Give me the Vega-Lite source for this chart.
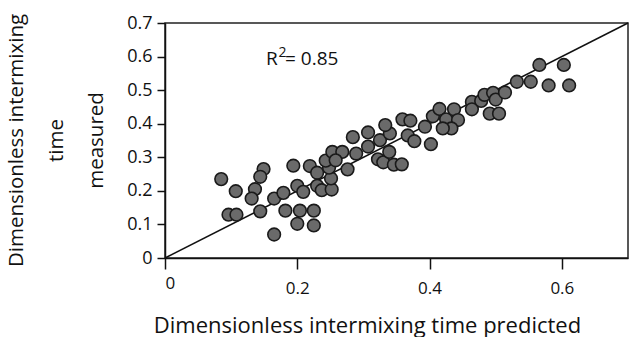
{
  "$schema": "https://vega.github.io/schema/vega-lite/v6.json",
  "autosize": "none",
  "width": 463,
  "height": 235,
  "padding": {"left": 165, "top": 23, "right": 1, "bottom": 79},
  "background": "white",
  "config": {
    "font": "Open Sans",
    "view": {"stroke": "#222", "strokeWidth": 1.5},
    "axis": {"grid": false, "domainColor": "#111", "domainWidth": 1.5, "tickColor": "#111", "tickWidth": 1.5, "labelColor": "#111", "titleColor": "#111", "labelFont": "Open Sans", "titleFont": "Open Sans", "titleFontWeight": "normal", "labelOverlap": false}
  },
  "data": {"values": [
    {"predicted": 0.085, "measured": 0.235},
    {"predicted": 0.107, "measured": 0.199},
    {"predicted": 0.096, "measured": 0.129},
    {"predicted": 0.108, "measured": 0.129},
    {"predicted": 0.149, "measured": 0.265},
    {"predicted": 0.144, "measured": 0.242},
    {"predicted": 0.136, "measured": 0.205},
    {"predicted": 0.131, "measured": 0.177},
    {"predicted": 0.144, "measured": 0.139},
    {"predicted": 0.165, "measured": 0.070},
    {"predicted": 0.165, "measured": 0.177},
    {"predicted": 0.179, "measured": 0.194},
    {"predicted": 0.182, "measured": 0.141},
    {"predicted": 0.194, "measured": 0.275},
    {"predicted": 0.200, "measured": 0.215},
    {"predicted": 0.209, "measured": 0.197},
    {"predicted": 0.204, "measured": 0.141},
    {"predicted": 0.225, "measured": 0.141},
    {"predicted": 0.200, "measured": 0.102},
    {"predicted": 0.225, "measured": 0.097},
    {"predicted": 0.219, "measured": 0.274},
    {"predicted": 0.230, "measured": 0.254},
    {"predicted": 0.230, "measured": 0.215},
    {"predicted": 0.237, "measured": 0.202},
    {"predicted": 0.252, "measured": 0.204},
    {"predicted": 0.251, "measured": 0.237},
    {"predicted": 0.248, "measured": 0.269},
    {"predicted": 0.243, "measured": 0.290},
    {"predicted": 0.253, "measured": 0.316},
    {"predicted": 0.268, "measured": 0.316},
    {"predicted": 0.258, "measured": 0.291},
    {"predicted": 0.276, "measured": 0.264},
    {"predicted": 0.289, "measured": 0.311},
    {"predicted": 0.284, "measured": 0.360},
    {"predicted": 0.307, "measured": 0.332},
    {"predicted": 0.307, "measured": 0.374},
    {"predicted": 0.322, "measured": 0.294},
    {"predicted": 0.325, "measured": 0.351},
    {"predicted": 0.330, "measured": 0.285},
    {"predicted": 0.346, "measured": 0.278},
    {"predicted": 0.358, "measured": 0.279},
    {"predicted": 0.339, "measured": 0.316},
    {"predicted": 0.340, "measured": 0.371},
    {"predicted": 0.333, "measured": 0.396},
    {"predicted": 0.359, "measured": 0.413},
    {"predicted": 0.371, "measured": 0.409},
    {"predicted": 0.367, "measured": 0.365},
    {"predicted": 0.377, "measured": 0.348},
    {"predicted": 0.402, "measured": 0.339},
    {"predicted": 0.393, "measured": 0.391},
    {"predicted": 0.405, "measured": 0.422},
    {"predicted": 0.415, "measured": 0.444},
    {"predicted": 0.425, "measured": 0.413},
    {"predicted": 0.437, "measured": 0.443},
    {"predicted": 0.443, "measured": 0.411},
    {"predicted": 0.433, "measured": 0.386},
    {"predicted": 0.420, "measured": 0.386},
    {"predicted": 0.464, "measured": 0.465},
    {"predicted": 0.464, "measured": 0.443},
    {"predicted": 0.478, "measured": 0.468},
    {"predicted": 0.483, "measured": 0.486},
    {"predicted": 0.491, "measured": 0.430},
    {"predicted": 0.496, "measured": 0.492},
    {"predicted": 0.505, "measured": 0.430},
    {"predicted": 0.500, "measured": 0.472},
    {"predicted": 0.514, "measured": 0.493},
    {"predicted": 0.532, "measured": 0.525},
    {"predicted": 0.553, "measured": 0.525},
    {"predicted": 0.566, "measured": 0.575},
    {"predicted": 0.603, "measured": 0.575},
    {"predicted": 0.580, "measured": 0.514},
    {"predicted": 0.611, "measured": 0.514}
  ]},
  "layer": [
    {
      "data": {"values": [{}]},
      "mark": {"type": "rule", "color": "#111", "strokeWidth": 1.5},
      "encoding": {
        "x": {"datum": 0, "type": "quantitative", "scale": {"domain": [0, 0.7], "nice": false},
          "axis": {"tickCount": 4, "format": ".1~f", "tickSize": 11, "labelFontSize": 17, "labelOverlap": false,
            "labelPadding": {"condition": {"test": "datum.value == 0", "value": 6}, "value": 11},
            "title": "Dimensionless intermixing time predicted", "titleFontSize": 22, "titleX": 202, "titleY": 74, "titleBaseline": "alphabetic", "titleAnchor": "middle"}},
        "y": {"datum": 0, "type": "quantitative", "scale": {"domain": [0, 0.7], "nice": false},
          "axis": {"values": [0, 0.1, 0.2, 0.3, 0.4, 0.5, 0.6, 0.7], "tickCount": 8, "format": ".1~f", "tickSize": 8, "labelFontSize": 18, "labelPadding": 5, "labelOverlap": false,
            "title": ["Dimensionless intermixing", "time", "measured"], "titleFontSize": 20.5, "titleLineHeight": 40, "titleX": -149, "titleY": 117, "titleBaseline": "middle", "titleAnchor": "middle"}},
        "x2": {"datum": 0.7},
        "y2": {"datum": 0.7}
      }
    },
    {
      "mark": {"type": "point", "shape": "circle", "filled": true, "size": 160, "fill": "#6a6a6a", "stroke": "#1a1a1a", "strokeWidth": 1.6, "opacity": 1},
      "encoding": {
        "x": {"field": "predicted", "type": "quantitative",
          "scale": {"domain": [0, 0.7], "nice": false},
          "axis": {"tickCount": 4, "format": ".1~f", "tickSize": 11, "labelFontSize": 17, "labelOverlap": false,
            "labelPadding": {"condition": {"test": "datum.value == 0", "value": 6}, "value": 11},
            "title": "Dimensionless intermixing time predicted", "titleFontSize": 22, "titleX": 202, "titleY": 74, "titleBaseline": "alphabetic", "titleAnchor": "middle"}},
        "y": {"field": "measured", "type": "quantitative",
          "scale": {"domain": [0, 0.7], "nice": false},
          "axis": {"values": [0, 0.1, 0.2, 0.3, 0.4, 0.5, 0.6, 0.7], "tickCount": 8, "format": ".1~f", "tickSize": 8, "labelFontSize": 18, "labelPadding": 5, "labelOverlap": false,
            "title": ["Dimensionless intermixing", "time", "measured"], "titleFontSize": 20.5, "titleLineHeight": 40, "titleX": -149, "titleY": 117, "titleBaseline": "middle", "titleAnchor": "middle"}}
      }
    },
    {
      "data": {"values": [{}]},
      "mark": {"type": "text", "text": "R", "align": "left", "baseline": "alphabetic", "fontSize": 19, "color": "#111"},
      "encoding": {"x": {"datum": 0.1527, "type": "quantitative"}, "y": {"datum": 0.574, "type": "quantitative"}}
    },
    {
      "data": {"values": [{}]},
      "mark": {"type": "text", "text": "2", "align": "left", "baseline": "alphabetic", "fontSize": 14, "color": "#111"},
      "encoding": {"x": {"datum": 0.1715, "type": "quantitative"}, "y": {"datum": 0.6, "type": "quantitative"}}
    },
    {
      "data": {"values": [{}]},
      "mark": {"type": "text", "text": "= 0.85", "align": "left", "baseline": "alphabetic", "fontSize": 19, "color": "#111"},
      "encoding": {"x": {"datum": 0.1815, "type": "quantitative"}, "y": {"datum": 0.574, "type": "quantitative"}}
    }
  ]
}
